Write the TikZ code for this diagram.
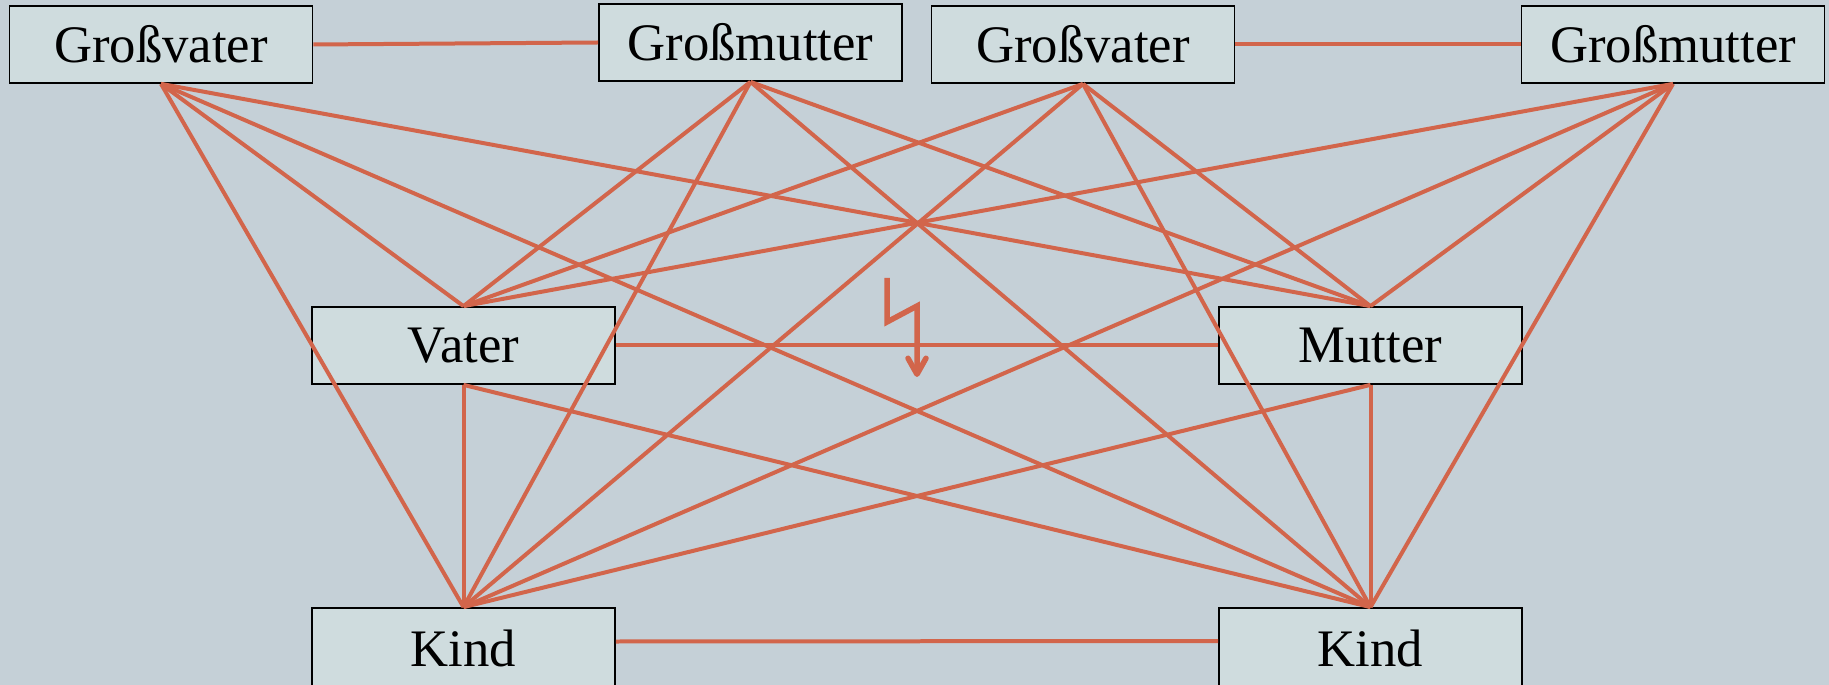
\documentclass[tikz,border=0pt]{standalone}
\usepackage{fontspec}
\setmainfont{Liberation Serif}
\usetikzlibrary{arrows.meta}

\definecolor{bgblue}{HTML}{C5D0D7}
\definecolor{boxblue}{HTML}{CFDCDE}
\definecolor{linered}{HTML}{D2654B}

\def\boxw{6.06cm}
\def\boxh{1.54cm}

\begin{document}
\begin{tikzpicture}[x=0.02cm,y=-0.02cm]
    \tikzstyle{person}=[rectangle, draw=black, line width=0.035cm, fill=boxblue, inner sep=0pt,
        minimum width=\boxw, minimum height=\boxh, font=\fontsize{30}{36}\selectfont]
    \tikzstyle{relation}=[draw=linered, line width=0.08cm]
    \tikzstyle{flash}=[draw=linered, line width=0.11cm,
        -{Straight Barb[length=0.32cm, width=0.36cm, round]}]

    % Background and page size
    \useasboundingbox (0,0) rectangle (1829,685);
    \fill[bgblue] (0,0) rectangle (1829,685);

    % Draw the grandparents
    \node[person] (G-1) at (161,44.5) {Großvater};
    \node[person] (G-2) at (750.5,42.5) {Großmutter};
    \node[person] (G-3) at (1083,44.5) {Großvater};
    \node[person] (G-4) at (1673,44.5) {Großmutter};

    % Draw the parents
    \node[person] (P-1) at (463.5,345.5) {Vater};
    \node[person] (P-2) at (1370.5,345.5) {Mutter};

    % Draw the children, their lower edge lies below the page
    \node[person, minimum height=1.7cm] (K-1) at (463.5,650.5) {\raisebox{0.08cm}{Kind}};
    \node[person, minimum height=1.7cm] (K-2) at (1370.5,650.5) {\raisebox{0.08cm}{Kind}};

    % Connect every grandparent with every parent and child
    \foreach \source in {1,...,4}
        \foreach \dest in {1,2} {
            \path[relation] (G-\source.south) -- (P-\dest.north);
            \path[relation] (G-\source.south) -- (K-\dest.north);
        }

    % Connect every parent with every child
    \foreach \source in {1,2}
        \foreach \dest in {1,2}
            \path[relation] (P-\source.south) -- (K-\dest.north);

    % Horizontal links
    \path[relation] (G-1.east) -- (G-2.west);
    \path[relation] (G-3.east) -- (G-4.west);
    \path[relation] (P-1.east) -- (P-2.west);
    \path[relation] ([yshift=0.18cm]K-1.east) -- ([yshift=0.19cm]K-2.west);

    % The flash between the parents
    \coordinate (F-1) at (887,278);
    \coordinate (F-2) at (887,322);
    \coordinate (F-3) at (917,306);
    \coordinate (F-4) at (917,377);
    \path[flash] (F-1) -- (F-2) -- (F-3) -- (F-4);
\end{tikzpicture}
\end{document}
